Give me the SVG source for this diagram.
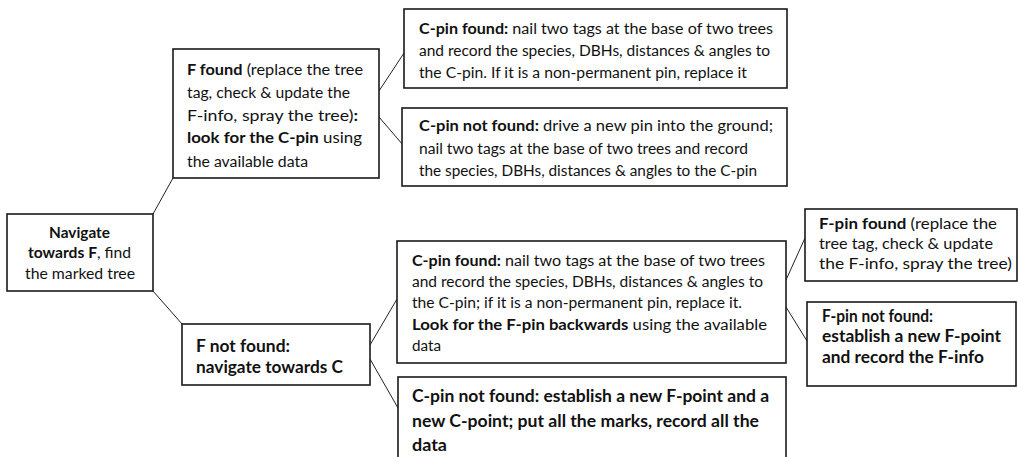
<svg xmlns="http://www.w3.org/2000/svg" width="1018" height="457" viewBox="0 0 1018 457">
<style>
.box{fill:#fff;stroke:#1a1a1a;stroke-width:1.6}
.t{font-family:Lato,"Liberation Sans",sans-serif;font-size:15.5px;fill:#111}
.tb{font-family:Lato,"Liberation Sans",sans-serif;font-size:16.5px;font-weight:bold;fill:#111}
.b{font-weight:bold}
.con line{stroke:#222;stroke-width:1}
</style>
<rect width="1018" height="457" fill="#fff"/>
<g class="con" id="connectors">
<line x1="153" y1="214" x2="173" y2="178"/>
<line x1="153" y1="291" x2="182" y2="324"/>
<line x1="379" y1="91" x2="404" y2="53"/>
<line x1="379" y1="117" x2="403" y2="145"/>
<line x1="370" y1="345" x2="397" y2="299"/>
<line x1="370" y1="359" x2="398" y2="408"/>
<line x1="786" y1="280" x2="805" y2="238"/>
<line x1="786" y1="307" x2="807" y2="341"/>
</g>
<g id="root">
<rect class="box" x="7" y="214" width="146" height="77"/>
<text class="t" x="49" y="238" textLength="61" lengthAdjust="spacingAndGlyphs"><tspan class="b">Navigate</tspan></text>
<text class="t" x="28" y="258" textLength="103" lengthAdjust="spacingAndGlyphs"><tspan class="b">towards F</tspan>, find</text>
<text class="t" x="25" y="279" textLength="110" lengthAdjust="spacingAndGlyphs">the marked tree</text>
</g>
<g id="f-found">
<rect class="box" x="173" y="49" width="206" height="129"/>
<text class="t" x="187" y="75" textLength="176" lengthAdjust="spacingAndGlyphs"><tspan class="b">F found</tspan> (replace the tree</text>
<text class="t" x="187" y="98" textLength="163" lengthAdjust="spacingAndGlyphs">tag, check &amp; update the</text>
<text class="t" x="187" y="121" textLength="171" lengthAdjust="spacingAndGlyphs">F-info, spray the tree)<tspan class="b">:</tspan></text>
<text class="t" x="187" y="143" textLength="175" lengthAdjust="spacingAndGlyphs"><tspan class="b">look for the C-pin</tspan> using</text>
<text class="t" x="187" y="167" textLength="121" lengthAdjust="spacingAndGlyphs">the available data</text>
</g>
<g id="f-not-found">
<rect class="box" x="182" y="324" width="188" height="61"/>
<text class="tb" x="196" y="352" textLength="94" lengthAdjust="spacingAndGlyphs">F not found:</text>
<text class="tb" x="196" y="373" textLength="147" lengthAdjust="spacingAndGlyphs">navigate towards C</text>
</g>
<g id="c-pin-found-1">
<rect class="box" x="404" y="9" width="383" height="79"/>
<text class="t" x="419" y="34" textLength="354" lengthAdjust="spacingAndGlyphs"><tspan class="b">C-pin found:</tspan> nail two tags at the base of two trees</text>
<text class="t" x="419" y="56" textLength="351" lengthAdjust="spacingAndGlyphs">and record the species, DBHs, distances &amp; angles to</text>
<text class="t" x="419" y="78" textLength="328" lengthAdjust="spacingAndGlyphs">the C-pin. If it is a non-permanent pin, replace it</text>
</g>
<g id="c-pin-not-found-1">
<rect class="box" x="402" y="108" width="385" height="78"/>
<text class="t" x="419" y="131" textLength="354" lengthAdjust="spacingAndGlyphs"><tspan class="b">C-pin not found:</tspan> drive a new pin into the ground;</text>
<text class="t" x="419" y="154" textLength="329" lengthAdjust="spacingAndGlyphs">nail two tags at the base of two trees and record</text>
<text class="t" x="419" y="176" textLength="338" lengthAdjust="spacingAndGlyphs">the species, DBHs, distances &amp; angles to the C-pin</text>
</g>
<g id="c-pin-found-2">
<rect class="box" x="397" y="241" width="389" height="122"/>
<text class="t" x="412" y="266" textLength="353" lengthAdjust="spacingAndGlyphs"><tspan class="b">C-pin found:</tspan> nail two tags at the base of two trees</text>
<text class="t" x="412" y="287" textLength="351" lengthAdjust="spacingAndGlyphs">and record the species, DBHs, distances &amp; angles to</text>
<text class="t" x="412" y="308" textLength="330" lengthAdjust="spacingAndGlyphs">the C-pin; if it is a non-permanent pin, replace it.</text>
<text class="t" x="412" y="330" textLength="355" lengthAdjust="spacingAndGlyphs"><tspan class="b">Look for the F-pin backwards</tspan> using the available</text>
<text class="t" x="412" y="351" textLength="29" lengthAdjust="spacingAndGlyphs">data</text>
</g>
<g id="c-pin-not-found-2">
<rect class="box" x="398" y="377" width="388" height="100"/>
<text class="tb" x="412" y="402" textLength="357" lengthAdjust="spacingAndGlyphs">C-pin not found: establish a new F-point and a</text>
<text class="tb" x="412" y="427" textLength="347" lengthAdjust="spacingAndGlyphs">new C-point; put all the marks, record all the</text>
<text class="tb" x="412" y="451" textLength="35" lengthAdjust="spacingAndGlyphs">data</text>
</g>
<g id="f-pin-found">
<rect class="box" x="805" y="209" width="212" height="72"/>
<text class="t" x="819" y="229" textLength="178" lengthAdjust="spacingAndGlyphs"><tspan class="b">F-pin found</tspan> (replace the</text>
<text class="t" x="819" y="249" textLength="174" lengthAdjust="spacingAndGlyphs">tree tag, check &amp; update</text>
<text class="t" x="819" y="269" textLength="193" lengthAdjust="spacingAndGlyphs">the F-info, spray the tree)</text>
</g>
<g id="f-pin-not-found">
<rect class="box" x="807" y="302" width="209" height="84"/>
<text class="tb" x="822" y="322" textLength="111" lengthAdjust="spacingAndGlyphs">F-pin not found:</text>
<text class="tb" x="822" y="342" textLength="179" lengthAdjust="spacingAndGlyphs">establish a new F-point</text>
<text class="tb" x="822" y="363" textLength="162" lengthAdjust="spacingAndGlyphs">and record the F-info</text>
</g>
</svg>
